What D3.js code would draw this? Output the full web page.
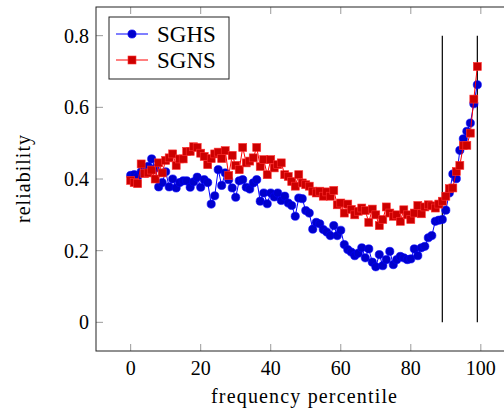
<!DOCTYPE html>
<html>
<head>
<meta charset="utf-8">
<script src="https://cdn.jsdelivr.net/npm/d3@7"></script>
<style>
  body { margin: 0; background: #fff; }
  svg { display: block; }
  text { font-family: "Liberation Serif", "DejaVu Serif", serif; fill: #000; }
</style>
</head>
<body>
<figure id="chart" style="margin:0"></figure>
<script>
// frequency percentiles 0..99
const percentiles = d3.range(0, 100);

const sghs = [
  0.410, 0.412, 0.407, 0.420, 0.425, 0.435, 0.456, 0.430, 0.378, 0.390,
  0.420, 0.378, 0.400, 0.375, 0.390, 0.395, 0.395, 0.377, 0.392, 0.405,
  0.377, 0.398, 0.390, 0.330, 0.353, 0.426, 0.382, 0.417, 0.398, 0.375,
  0.349, 0.395, 0.398, 0.377, 0.372, 0.389, 0.398, 0.338, 0.361, 0.331,
  0.361, 0.350, 0.361, 0.340, 0.352, 0.333, 0.326, 0.296, 0.347, 0.345,
  0.312, 0.305, 0.260, 0.279, 0.275, 0.259, 0.252, 0.242, 0.270, 0.242,
  0.257, 0.217, 0.203, 0.196, 0.186, 0.193, 0.208, 0.180, 0.205, 0.168,
  0.155, 0.189, 0.158, 0.175, 0.198, 0.161, 0.175, 0.184, 0.180, 0.175,
  0.177, 0.205, 0.186, 0.208, 0.212, 0.236, 0.242, 0.282, 0.285, 0.287,
  0.313, 0.361, 0.414, 0.401, 0.480, 0.512, 0.533, 0.556, 0.610, 0.663
];

const sgns = [
  0.396, 0.390, 0.387, 0.442, 0.415, 0.417, 0.425, 0.400, 0.445, 0.417,
  0.452, 0.459, 0.470, 0.438, 0.456, 0.456, 0.477, 0.477, 0.490, 0.488,
  0.472, 0.463, 0.440, 0.457, 0.470, 0.475, 0.457, 0.479, 0.410, 0.466,
  0.438, 0.426, 0.488, 0.445, 0.450, 0.459, 0.488, 0.435, 0.454, 0.412,
  0.454, 0.431, 0.440, 0.445, 0.412, 0.407, 0.393, 0.380, 0.412, 0.389,
  0.384, 0.380, 0.366, 0.361, 0.366, 0.352, 0.364, 0.352, 0.368, 0.328,
  0.333, 0.305, 0.330, 0.315, 0.300, 0.310, 0.319, 0.312, 0.279, 0.316,
  0.300, 0.270, 0.287, 0.322, 0.305, 0.296, 0.300, 0.282, 0.314, 0.300,
  0.287, 0.305, 0.326, 0.303, 0.322, 0.328, 0.325, 0.319, 0.330, 0.338,
  0.352, 0.373, 0.375, 0.421, 0.438, 0.493, 0.494, 0.528, 0.623, 0.714
];

const xTicks = [0, 20, 40, 60, 80, 100];
const yTicks = [0, 0.2, 0.4, 0.6, 0.8];
const markerLines = [89, 99];

const width = 504, height = 411;
const margin = { top: 7, right: -8, bottom: 60, left: 96 };
const innerW = width - margin.left - margin.right;
const innerH = height - margin.top - margin.bottom;

const svg = d3.select("figure#chart")
  .append("svg")
  .attr("width", width)
  .attr("height", height);

const g = svg.append("g")
  .attr("transform", "translate(" + margin.left + "," + margin.top + ")");

const x = d3.scaleLinear().domain([-9.9, 108.9]).range([0, innerW]);
const y = d3.scaleLinear().domain([-0.08, 0.88]).range([innerH, 0]);

// ticks (inward, on all four sides)
const tickLen = 7;
const tickColor = "#9a9a9a";
xTicks.forEach(t => {
  g.append("line").attr("x1", x(t)).attr("x2", x(t)).attr("y1", innerH).attr("y2", innerH - tickLen)
    .style("stroke", tickColor).style("stroke-width", "1px");
  g.append("line").attr("x1", x(t)).attr("x2", x(t)).attr("y1", 0).attr("y2", tickLen)
    .style("stroke", tickColor).style("stroke-width", "1px");
  g.append("text").attr("x", x(t)).attr("y", innerH + 24)
    .attr("text-anchor", "middle").style("font-size", "20px").text(t);
});
yTicks.forEach(t => {
  g.append("line").attr("x1", 0).attr("x2", tickLen).attr("y1", y(t)).attr("y2", y(t))
    .style("stroke", tickColor).style("stroke-width", "1px");
  g.append("line").attr("x1", innerW).attr("x2", innerW - tickLen).attr("y1", y(t)).attr("y2", y(t))
    .style("stroke", tickColor).style("stroke-width", "1px");
  g.append("text").attr("x", -7).attr("y", y(t)).attr("dy", "0.35em")
    .attr("text-anchor", "end").style("font-size", "20px").text(t);
});

// frame
g.append("rect").attr("width", innerW).attr("height", innerH)
  .style("fill", "none").style("stroke", "#222").style("stroke-width", "1px");

// vertical reference lines
markerLines.forEach(v => {
  g.append("line").attr("x1", x(v)).attr("x2", x(v)).attr("y1", y(0)).attr("y2", y(0.8))
    .style("stroke", "#000").style("stroke-width", "1.2px");
});

const line = d3.line().x((d, i) => x(percentiles[i])).y(d => y(d));
const r = 4.1, sq = 8;

// SGHS
g.append("path").datum(sghs).attr("d", line)
  .style("fill", "none").style("stroke", "#0000ff").style("stroke-width", "1px");
g.selectAll("circle.sghs").data(sghs).enter().append("circle")
  .attr("class", "sghs")
  .attr("cx", (d, i) => x(percentiles[i])).attr("cy", d => y(d)).attr("r", r)
  .style("fill", "#0000cc").style("stroke", "#0000ff").style("stroke-width", "0.6px");

// SGNS
g.append("path").datum(sgns).attr("d", line)
  .style("fill", "none").style("stroke", "#ff0000").style("stroke-width", "1px");
g.selectAll("rect.sgns").data(sgns).enter().append("rect")
  .attr("class", "sgns")
  .attr("x", (d, i) => x(percentiles[i]) - sq / 2).attr("y", d => y(d) - sq / 2)
  .attr("width", sq).attr("height", sq)
  .style("fill", "#cc0000").style("stroke", "#ff3030").style("stroke-width", "0.6px");

// axis labels
svg.append("text").attr("x", 304).attr("y", 403).attr("text-anchor", "middle")
  .attr("textLength", 186).attr("lengthAdjust", "spacing")
  .style("font-size", "20px").text("frequency percentile");
svg.append("text").attr("transform", "translate(30,179) rotate(-90)").attr("text-anchor", "middle")
  .attr("textLength", 88).attr("lengthAdjust", "spacing")
  .style("font-size", "20px").text("reliability");

// legend
const legend = svg.append("g");
legend.append("rect").attr("x", 109).attr("y", 17).attr("width", 120).attr("height", 62)
  .style("fill", "#fff").style("stroke", "#222").style("stroke-width", "1px");
const entries = [
  { name: "SGHS", color: "#0000ff", fill: "#0000cc", shape: "circle", cy: 34 },
  { name: "SGNS", color: "#ff0000", fill: "#cc0000", shape: "square", cy: 60 }
];
entries.forEach(e => {
  legend.append("line").attr("x1", 116).attr("x2", 148).attr("y1", e.cy).attr("y2", e.cy)
    .style("stroke", e.color).style("stroke-width", "1px");
  if (e.shape === "circle") {
    legend.append("circle").attr("cx", 132).attr("cy", e.cy).attr("r", r)
      .style("fill", e.fill).style("stroke", e.color).style("stroke-width", "0.6px");
  } else {
    legend.append("rect").attr("x", 132 - sq / 2).attr("y", e.cy - sq / 2).attr("width", sq).attr("height", sq)
      .style("fill", e.fill).style("stroke", "#ff3030").style("stroke-width", "0.6px");
  }
  legend.append("text").attr("x", 157).attr("y", e.cy).attr("dy", "0.35em")
    .style("font-size", "23px").text(e.name);
});
</script>
</body>
</html>
